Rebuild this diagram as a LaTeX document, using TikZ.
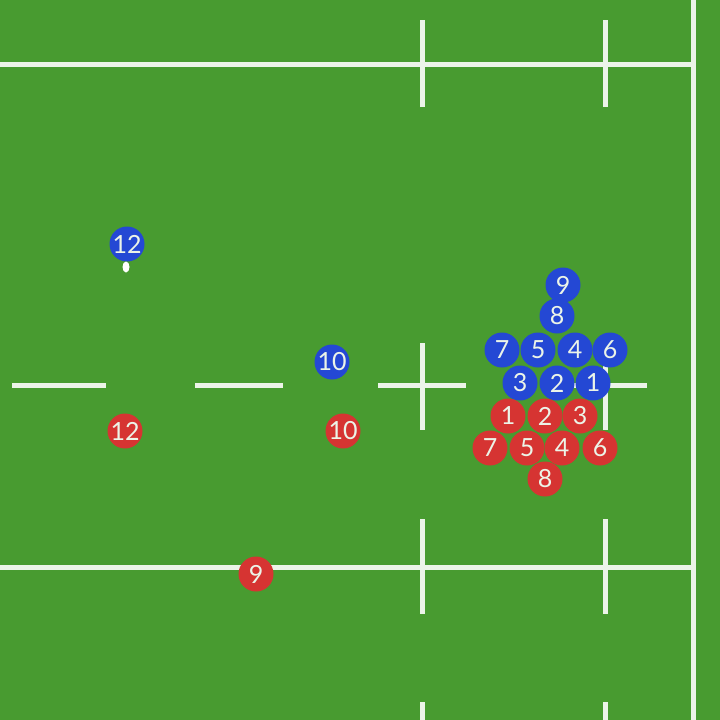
\documentclass[tikz,border=0pt]{standalone}
\usepackage{fontspec}
\setsansfont{Lato}
\usepackage{tikz}
\usetikzlibrary{positioning, shapes.geometric}
\definecolor{pitch}{RGB}{72,155,48}
\definecolor{chalk}{RGB}{236,244,232}
\definecolor{bluteam}{RGB}{36,72,212}
\definecolor{redteam}{RGB}{214,52,50}
\tikzset{%
	line/.style = {chalk, line width = 5pt},
	plr/.style = {circle, inner sep = 0pt, minimum size = 35pt, text = chalk, font = \sffamily\fontsize{25}{25}\selectfont},
	blu/.style = {name = b#1, plr, fill = bluteam, label = {[text = chalk, font = \sffamily\fontsize{25}{25}\selectfont]center:#1}},
	red/.style = {name = r#1, plr, fill = redteam, label = {[text = chalk, font = \sffamily\fontsize{25}{25}\selectfont]center:#1}}
}

\begin{document}
\begin{tikzpicture}[x=1pt, y=-1pt]
			\fill [pitch] (0,0) rectangle (720,720);
			\useasboundingbox (0,0) rectangle (720,720);
			% touch lines
			\draw [line] (0,64) -- (693,64);
			\draw [line] (0,567) -- (693,567);
			\draw [line] (693,0) -- (693,720);
			% dashes on halfway line
			\draw [line] (12,385) -- (106,385);
			\draw [line] (195,385) -- (283,385);
			\draw [line] (378,385) -- (466,385);
			\draw [line] (563,385) -- (647,385);
			% ticks
			\foreach \x in {422,605} {
				\draw [line] (\x,20) -- (\x,107);
				\draw [line] (\x,519) -- (\x,614);
				\draw [line] (\x,702) -- (\x,720);
				\draw [line] (\x,343) -- (\x,430);
			}
			% backs
			\node [blu = {12}] at (127,244) {};
			\fill [white] (126,267) ellipse (3.5 and 5.5);
			\node [blu = {10}] at (332,362) {};
			\node [red = {12}] at (125,431) {};
			\node [red = {10}] at (343,431) {};
			\node [red = {9}] at (256,574) {};
			% blue scrum
			\node [blu = {9}] at (563,285) {};
			\node [blu = {8}] at (557,316) {};
			\node [blu = {7}] at (502,350) {};
			\node [blu = {5}] at (538,350) {};
			\node [blu = {4}] at (575,350) {};
			\node [blu = {6}] at (610,350) {};
			\node [blu = {3}] at (520,383) {};
			\node [blu = {2}] at (557,383) {};
			\node [blu = {1}] at (593,383) {};
			% red scrum
			\node [red = {1}] at (508,416) {};
			\node [red = {2}] at (545,416) {};
			\node [red = {3}] at (580,416) {};
			\node [red = {7}] at (490,448) {};
			\node [red = {5}] at (527,448) {};
			\node [red = {4}] at (562,448) {};
			\node [red = {6}] at (600,448) {};
			\node [red = {8}] at (545,479) {};
\end{tikzpicture}
\end{document}
